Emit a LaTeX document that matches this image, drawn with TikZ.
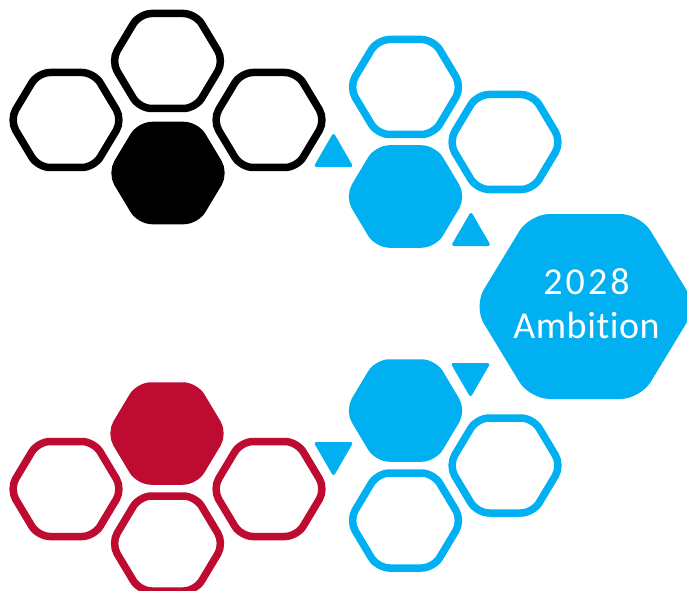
\documentclass[tikz,border=0pt]{standalone}
\usepackage{fontspec}
\newfontfamily\ambfont[Ligatures=NoCommon, LetterSpace=1.5]{Carlito}
\newfontfamily\yearfont[LetterSpace=8]{Carlito}
\definecolor{hexblue}{HTML}{00B0F0}
\definecolor{hexred}{HTML}{BE0B31}
\tikzset{
  hexline/.style={draw=#1, line width=7.5pt, line join=round, rounded corners=12pt},
  hexsolid/.style={draw=#1, fill=#1, line width=7.5pt, line join=round, rounded corners=12pt},
  bighex/.style={fill=hexblue, rounded corners=20pt},
  tri/.style={fill=hexblue, rounded corners=3pt},
  label/.style={text=white, inner sep=0pt, anchor=base},
}
\newcommand\hexat[2]{%
  \path[#1, shift={(#2)}] (56.5,0) -- (28,47.5) -- (-28,47.5) -- (-56.5,0) -- (-28,-47.5) -- (28,-47.5) -- cycle;}
\newcommand\triup[1]{%
  \path[tri, shift={(#1)}] (-20,0) -- (20,0) -- (0,34.6) -- cycle;}
\newcommand\tridown[1]{%
  \path[tri, shift={(#1)}] (-20,0) -- (20,0) -- (0,-34.6) -- cycle;}
\begin{document}
\begin{tikzpicture}[x=1pt,y=1pt]
\useasboundingbox (0,0) rectangle (687,590);
% black group (top left)
\hexat{hexline=black}{167.5,529}
\hexat{hexline=black}{66,470}
\hexat{hexline=black}{269,470}
\hexat{hexsolid=black}{168,417}
% red group (bottom left)
\hexat{hexsolid=hexred}{167,156.5}
\hexat{hexline=hexred}{66,101}
\hexat{hexline=hexred}{269,101}
\hexat{hexline=hexred}{167.5,46.5}
% blue group (top)
\hexat{hexline=hexblue}{405.5,503}
\hexat{hexline=hexblue}{505,448}
\hexat{hexsolid=hexblue}{405.5,393.5}
% blue group (bottom)
\hexat{hexsolid=hexblue}{405.5,179.5}
\hexat{hexline=hexblue}{505,124.5}
\hexat{hexline=hexblue}{405.5,69.5}
% triangles
\triup{333.5,423}
\triup{471,344}
\tridown{470.5,227}
\tridown{333.5,148}
% big hexagon
\path[bighex, shift={(585,283.5)}] (111.5,0) -- (55.3,92.5) -- (-55.3,92.5) -- (-111.5,0) -- (-55.3,-92.5) -- (55.3,-92.5) -- cycle;
\node[label, font=\yearfont\fontsize{38}{44}\selectfont] (year) at (586.5,296) {2028};
\node[label, font=\ambfont\fontsize{38}{44}\selectfont] (amb) at (586.5,252) {Ambition};
\end{tikzpicture}
\end{document}
